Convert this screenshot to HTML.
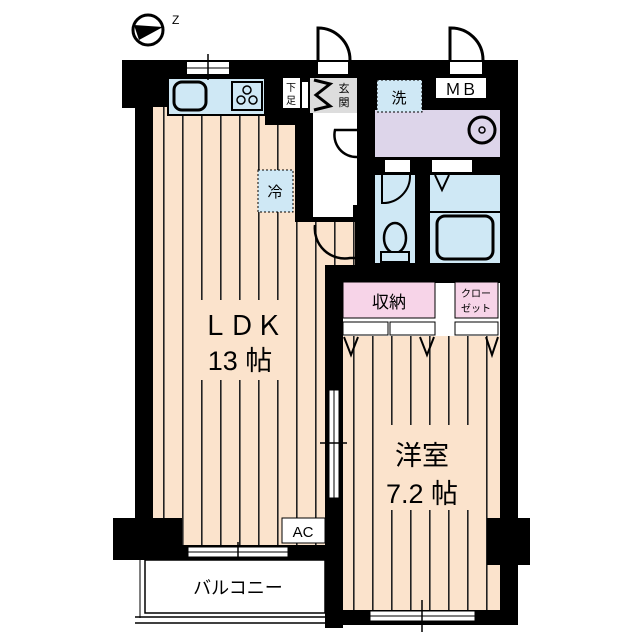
<!DOCTYPE html>
<html><head><meta charset="utf-8"><style>body{margin:0;background:#fff}svg{display:block}</style></head><body>
<svg width="640" height="640" viewBox="0 0 640 640" xmlns="http://www.w3.org/2000/svg" font-family="Liberation Sans, Noto Sans CJK JP, sans-serif">
<defs>
<pattern id="fl" x="144" y="0" width="19" height="10" patternUnits="userSpaceOnUse">
<rect width="19" height="10" fill="#fbe3cc"/><rect x="0" width="1.6" height="10" fill="#222"/></pattern>
</defs>
<!-- compass -->
<circle cx="148" cy="30" r="15" fill="#fff" stroke="#000" stroke-width="3"/>
<path d="M134 25 L163 27 L139 40 Z" fill="#000"/>
<text x="172" y="24" font-size="12">Z</text>
<!-- black structure -->
<rect x="122" y="60" width="396" height="48" fill="#000"/>
<rect x="135" y="60" width="18" height="500" fill="#000"/>
<rect x="500" y="60" width="18" height="565" fill="#000"/>
<rect x="265" y="100" width="110" height="170" fill="#000"/>
<rect x="357" y="100" width="161" height="180" fill="#000"/>
<rect x="325" y="263" width="193" height="20" fill="#000"/>
<rect x="325" y="263" width="18" height="365" fill="#000"/>
<rect x="153" y="543" width="190" height="17" fill="#000"/>
<rect x="343" y="608" width="175" height="17" fill="#000"/>
<!-- LDK floor -->
<path d="M153 107 H265 V125 H295 V222 H355 V265 H325 V545 H182 V518 H153 Z" fill="url(#fl)"/>
<rect x="195" y="300" width="100" height="80" fill="#fbe3cc"/>
<!-- kitchen -->
<rect x="168" y="78" width="97" height="37" fill="#cfe8f5" stroke="#000" stroke-width="2"/>
<rect x="174" y="82" width="32" height="28" rx="8" fill="#cfe8f5" stroke="#000" stroke-width="3"/>
<rect x="232" y="82" width="30" height="28" fill="#cfe8f5" stroke="#000" stroke-width="2"/>
<circle cx="247" cy="90" r="4" fill="none" stroke="#000" stroke-width="1.5"/><circle cx="241" cy="100" r="4" fill="none" stroke="#000" stroke-width="1.5"/><circle cx="253" cy="100" r="4" fill="none" stroke="#000" stroke-width="1.5"/>
<rect x="187" y="62" width="42" height="12" fill="#fff"/><line x1="187" y1="68" x2="229" y2="68" stroke="#000"/><line x1="208" y1="54" x2="208" y2="80" stroke="#000" stroke-width="1.5"/>
<!-- 冷 -->
<rect x="258" y="170" width="35" height="42" fill="#cfe8f5" stroke="#000" stroke-dasharray="2 2"/>
<text x="275" y="197" font-size="15" text-anchor="middle">冷</text>
<!-- entrance -->
<rect x="283" y="78" width="17" height="30" fill="#fff"/>
<text x="291" y="91" font-size="10" text-anchor="middle">下</text><text x="291" y="104" font-size="10" text-anchor="middle">足</text>
<rect x="310" y="78" width="47" height="35" fill="#ddd"/>
<rect x="302" y="82" width="6" height="26" fill="#fff"/>
<path d="M314 80 L330 84 L316 95 L330 106 L314 110" fill="none" stroke="#000" stroke-width="3"/>
<text x="344" y="92" font-size="11" text-anchor="middle">玄</text><text x="344" y="106" font-size="11" text-anchor="middle">関</text>
<rect x="313" y="113" width="44" height="92" fill="#fff"/>
<rect x="318" y="62" width="30" height="12" fill="#fff"/>
<path d="M318 60 V28 A32 32 0 0 1 350 60" fill="none" stroke="#000" stroke-width="3"/>
<path d="M357 130 H335 A22 22 0 0 0 357 157" fill="#fff" stroke="#000" stroke-width="2.5"/>
<rect x="313" y="205" width="40" height="12" fill="#fff"/>
<path d="M315 225 A30 30 0 0 0 350 258 H355" fill="none" stroke="#000" stroke-width="2.5"/>
<!-- wash -->
<rect x="375" y="110" width="125" height="47" fill="#ddd5ea"/>
<rect x="377" y="80" width="45" height="32" fill="#cfe8f5" stroke="#000" stroke-dasharray="2 2"/>
<text x="399" y="103" font-size="15" text-anchor="middle">洗</text>
<circle cx="482" cy="130" r="13" fill="#ddd5ea" stroke="#000" stroke-width="3"/><circle cx="482" cy="130" r="3" fill="none" stroke="#000" stroke-width="1.5"/>
<rect x="436" y="78" width="50" height="20" fill="#fff"/>
<text x="461" y="95" font-size="16" text-anchor="middle">ＭＢ</text>
<rect x="450" y="62" width="32" height="12" fill="#fff"/>
<path d="M450 60 V28 A32 32 0 0 1 483 60" fill="none" stroke="#000" stroke-width="3"/>
<!-- toilet / bath -->
<rect x="375" y="175" width="40" height="88" fill="#cfe8f5"/>
<rect x="430" y="175" width="70" height="88" fill="#cfe8f5"/>
<rect x="385" y="160" width="25" height="12" fill="#fff"/><rect x="432" y="160" width="40" height="12" fill="#fff"/>
<path d="M382 175 V203 A27 27 0 0 0 410 175" fill="none" stroke="#000" stroke-width="2"/>
<ellipse cx="395" cy="238" rx="11" ry="15" fill="#cfe8f5" stroke="#000" stroke-width="2.5"/>
<rect x="381" y="252" width="28" height="10" fill="#cfe8f5" stroke="#000" stroke-width="2"/>
<line x1="430" y1="212" x2="500" y2="212" stroke="#000" stroke-width="2"/>
<rect x="437" y="216" width="56" height="43" rx="8" fill="#cfe8f5" stroke="#000" stroke-width="3"/>
<path d="M435 175 L442 190 L449 175" fill="none" stroke="#000" stroke-width="2"/>
<!-- western room -->
<rect x="343" y="336" width="157" height="274" fill="url(#fl)"/>
<rect x="375" y="425" width="110" height="85" fill="#fbe3cc"/>
<rect x="343" y="282" width="92" height="36" fill="#f7d4e8" stroke="#000" stroke-width="1"/>
<text x="389" y="308" font-size="17" text-anchor="middle">収納</text>
<rect x="455" y="282" width="43" height="36" fill="#f7d4e8" stroke="#000" stroke-width="1"/>
<text x="476" y="297" font-size="10" text-anchor="middle">クロー</text><text x="476" y="312" font-size="10" text-anchor="middle">ゼット</text>
<rect x="343" y="322" width="45" height="13" fill="#fff" stroke="#000"/><rect x="390" y="322" width="45" height="13" fill="#fff" stroke="#000"/><rect x="455" y="322" width="43" height="13" fill="#fff" stroke="#000"/>
<path d="M344 337 L351 355 L358 337 M420 337 L427 355 L434 337 M486 337 L492 355 L498 337" fill="none" stroke="#000" stroke-width="2"/>
<!-- pillars -->
<rect x="113" y="518" width="69" height="42" fill="#000"/>
<rect x="487" y="518" width="43" height="47" fill="#000"/>
<!-- sliding door -->
<rect x="329" y="390" width="10" height="108" fill="#fff" stroke="#000"/>
<line x1="334" y1="390" x2="334" y2="498" stroke="#000"/>
<line x1="320" y1="443" x2="347" y2="443" stroke="#000" stroke-width="1.5"/>
<!-- texts -->
<text x="242" y="335" font-size="27" text-anchor="middle">ＬＤＫ</text>
<text x="240" y="370" font-size="27" text-anchor="middle">13 帖</text>
<text x="422" y="465" font-size="27" text-anchor="middle">洋室</text>
<text x="422" y="503" font-size="27" text-anchor="middle">7.2 帖</text>
<!-- AC -->
<rect x="282" y="518" width="43" height="25" fill="#fff" stroke="#000"/>
<text x="303" y="537" font-size="15" text-anchor="middle">AC</text>
<!-- windows -->
<rect x="188" y="547" width="100" height="10" fill="#fff" stroke="#000"/><line x1="188" y1="552" x2="288" y2="552" stroke="#000"/>
<line x1="238" y1="542" x2="238" y2="567" stroke="#000" stroke-width="1.5"/>
<rect x="370" y="611" width="105" height="10" fill="#fff" stroke="#000"/><line x1="370" y1="616" x2="475" y2="616" stroke="#000"/>
<line x1="422" y1="600" x2="422" y2="632" stroke="#000" stroke-width="1.5"/>
<!-- balcony -->
<rect x="145" y="560" width="180" height="53" fill="#fff" stroke="#000" stroke-width="1.5"/>
<line x1="140" y1="560" x2="140" y2="618" stroke="#000"/>
<line x1="135" y1="617" x2="325" y2="617" stroke="#000" stroke-width="1.5"/>
<line x1="135" y1="623" x2="325" y2="623" stroke="#000" stroke-width="1.5"/>
<text x="238" y="594" font-size="18" text-anchor="middle">バルコニー</text>
</svg>
</body></html>
